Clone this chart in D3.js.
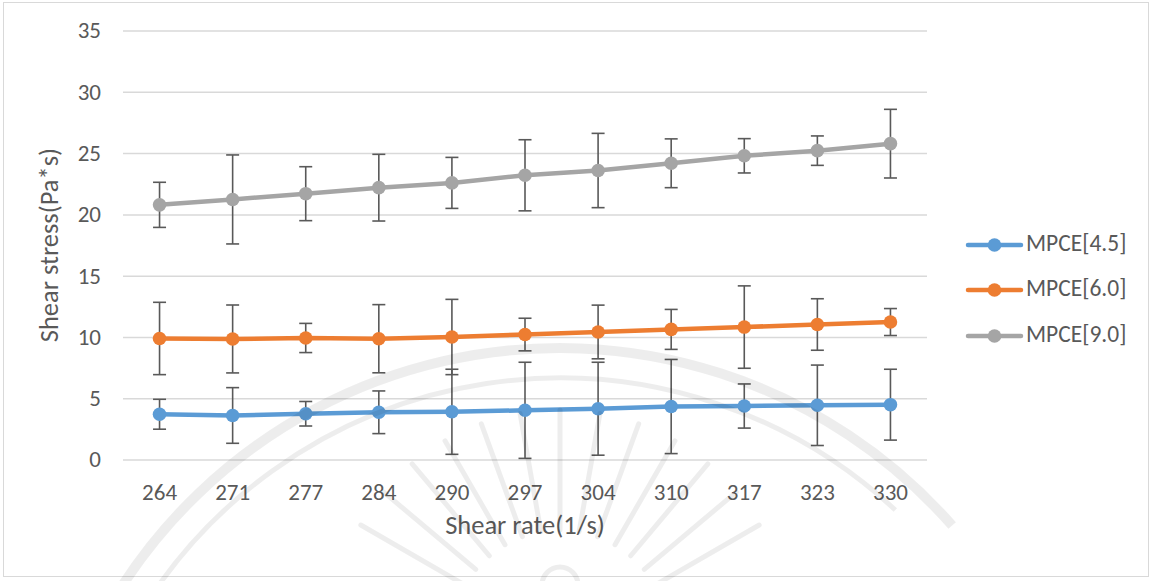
<!DOCTYPE html>
<html>
<head>
<meta charset="utf-8">
<script src="https://cdn.jsdelivr.net/npm/d3@7"></script>
<style>
  html, body { margin: 0; padding: 0; background: #fff; }
  svg { display: block; }
  text { font-family: Calibri, Carlito, "Open Sans", sans-serif; fill: #595959; }
</style>
</head>
<body>
<svg id="chart" width="1152" height="581"></svg>
<script>
// Shear rate categories (1/s)
const categories = [264, 271, 277, 284, 290, 297, 304, 310, 317, 323, 330];

// Mean shear stress (Pa*s) per series
const mpce45 = [3.70, 3.60, 3.74, 3.86, 3.90, 4.02, 4.15, 4.33, 4.37, 4.43, 4.48];
const mpce60 = [9.88, 9.84, 9.92, 9.86, 10.00, 10.20, 10.41, 10.62, 10.81, 11.02, 11.22];
const mpce90 = [20.78, 21.22, 21.69, 22.18, 22.57, 23.19, 23.58, 24.17, 24.78, 25.20, 25.77];

// Error bar half-widths (±)
const err45 = [1.22, 2.27, 1.00, 1.74, 3.47, 3.92, 3.79, 3.84, 1.80, 3.28, 2.89];
const err60 = [2.95, 2.77, 1.19, 2.78, 3.07, 1.33, 2.19, 1.63, 3.36, 2.10, 1.10];
const err90 = [1.84, 3.63, 2.20, 2.72, 2.08, 2.90, 3.03, 1.99, 1.40, 1.20, 2.80];

const seriesNames = ["MPCE[4.5]", "MPCE[6.0]", "MPCE[9.0]"];
const seriesColors = ["#5B9BD5", "#ED7D31", "#A5A5A5"];
const yTicks = [0, 5, 10, 15, 20, 25, 30, 35];

const series = [
  { name: seriesNames[0], color: seriesColors[0], values: mpce45, errors: err45 },
  { name: seriesNames[1], color: seriesColors[1], values: mpce60, errors: err60 },
  { name: seriesNames[2], color: seriesColors[2], values: mpce90, errors: err90 }
];

const FONT = "Calibri, Carlito, 'Open Sans', sans-serif";
const svg = d3.select("#chart");
const plot = { left: 123, right: 927, top: 30.5, bottom: 459.6 };

const x = d3.scaleBand().domain(categories).range([plot.left, plot.right]).padding(0);
const y = d3.scaleLinear().domain([0, 35]).range([plot.bottom, plot.top]);
const cx = d => x(d) + x.bandwidth() / 2;

// Chart area border
svg.append("rect")
  .attr("x", 3.5).attr("y", 2.5).attr("width", 1145).attr("height", 574)
  .attr("fill", "#fff").attr("stroke", "#d9d9d9").attr("stroke-width", 1);

// Gridlines + y tick labels
const yAxis = d3.axisLeft(y).tickValues(yTicks)
  .tickSize(-(plot.right - plot.left)).tickPadding(22);
const gy = svg.append("g").attr("transform", `translate(${plot.left},0)`).call(yAxis);
gy.select(".domain").remove();
gy.selectAll(".tick line").attr("stroke", "#d9d9d9").attr("stroke-width", 1.5);
gy.selectAll(".tick text").attr("font-size", 23).attr("fill", "#595959")
  .style("font-family", FONT);

// Category labels
const xAxis = d3.axisBottom(x).tickSize(0).tickPadding(0);
const gx = svg.append("g").attr("transform", `translate(0,${plot.bottom + 24})`).call(xAxis);
gx.select(".domain").remove();
gx.selectAll(".tick text").attr("font-size", 23).attr("fill", "#595959")
  .attr("dy", "0.71em")
  .style("font-family", FONT);

// Axis titles
svg.append("text")
  .attr("x", (plot.left + plot.right) / 2).attr("y", 528)
  .attr("text-anchor", "middle").attr("dominant-baseline", "middle")
  .attr("font-size", 26.5).text("Shear rate(1/s)");

svg.append("text")
  .attr("transform", `translate(52,${(plot.top + plot.bottom) / 2}) rotate(-90)`)
  .attr("text-anchor", "middle").attr("dominant-baseline", "middle")
  .attr("font-size", 26.5).text("Shear stress(Pa*s)");

// Error bars
const capHalf = 6.5;
series.forEach(s => {
  const g = svg.append("g").attr("stroke", "#595959").attr("stroke-width", 1.6);
  categories.forEach((c, i) => {
    const hi = y(s.values[i] + s.errors[i]);
    const lo = y(s.values[i] - s.errors[i]);
    const xc = cx(c);
    g.append("line").attr("x1", xc).attr("x2", xc).attr("y1", hi).attr("y2", lo);
    g.append("line").attr("x1", xc - capHalf).attr("x2", xc + capHalf).attr("y1", hi).attr("y2", hi);
    g.append("line").attr("x1", xc - capHalf).attr("x2", xc + capHalf).attr("y1", lo).attr("y2", lo);
  });
});

// Lines and markers
const line = d3.line().x((d, i) => cx(categories[i])).y(d => y(d));
series.forEach(s => {
  svg.append("path").datum(s.values)
    .attr("d", line).attr("fill", "none")
    .attr("stroke", s.color).attr("stroke-width", 4.5)
    .attr("stroke-linejoin", "round").attr("stroke-linecap", "round");
  svg.append("g").selectAll("circle").data(s.values).join("circle")
    .attr("cx", (d, i) => cx(categories[i])).attr("cy", d => y(d))
    .attr("r", 6.8).attr("fill", s.color);
});

// Faint emblem in the background
const wm = svg.append("g").attr("fill", "none").attr("stroke", "#000")
  .attr("stroke-opacity", 0.07).attr("pointer-events", "none");
const arcGen = d3.arc();
wm.append("path").attr("transform", "translate(560,870)")
  .attr("d", arcGen({ innerRadius: 522, outerRadius: 522, startAngle: -1.3, endAngle: 0.85 }))
  .attr("stroke-width", 10);
wm.append("path").attr("transform", "translate(560,870)")
  .attr("d", arcGen({ innerRadius: 492, outerRadius: 492, startAngle: -1.05, endAngle: 0.75 }))
  .attr("stroke-width", 5);
const rayCenter = [560, 640];
d3.range(-150, -25, 10).forEach(deg => {
  const a = deg * Math.PI / 180;
  wm.append("line")
    .attr("x1", rayCenter[0] + Math.cos(a) * 110).attr("y1", rayCenter[1] + Math.sin(a) * 110)
    .attr("x2", rayCenter[0] + Math.cos(a) * 230).attr("y2", rayCenter[1] + Math.sin(a) * 230)
    .attr("stroke-width", 5).attr("stroke-linecap", "round");
});
wm.append("circle").attr("cx", 560).attr("cy", 585).attr("r", 18).attr("stroke-width", 5);

// Legend
const legend = svg.append("g");
const legendY = [245, 290, 336];
series.forEach((s, i) => {
  const g = legend.append("g").attr("transform", `translate(0,${legendY[i]})`);
  g.append("line").attr("x1", 968).attr("x2", 1021).attr("y1", 0).attr("y2", 0)
    .attr("stroke", s.color).attr("stroke-width", 4.5).attr("stroke-linecap", "round");
  g.append("circle").attr("cx", 994.5).attr("cy", 0).attr("r", 6.8).attr("fill", s.color);
  g.append("text").attr("x", 1026).attr("y", 0).attr("dominant-baseline", "middle")
    .attr("font-size", 23.5).text(s.name);
});
</script>
</body>
</html>
